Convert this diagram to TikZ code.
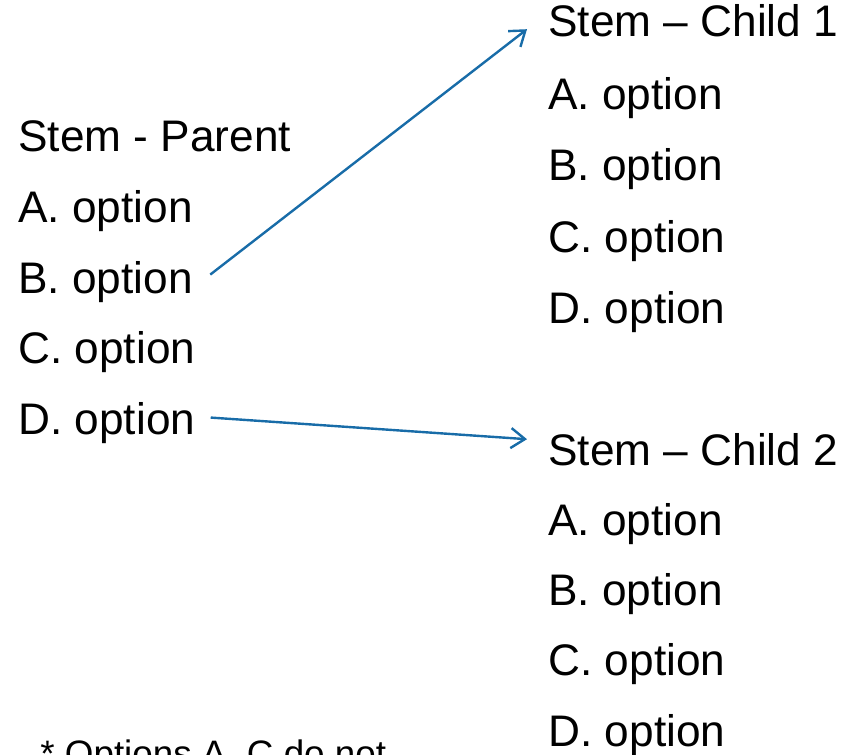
\documentclass[tikz,border=0pt]{standalone}
\usepackage{fontspec}
\setmainfont{Liberation Sans}
\usetikzlibrary{arrows.meta}
\definecolor{linkblue}{RGB}{24,108,168}
\tikzset{
	optline/.style = {anchor = base west, inner sep = 0pt, font = \fontsize{22.1}{26}\selectfont},
	noteline/.style = {anchor = base west, inner sep = 0pt, font = \fontsize{18.4}{22}\selectfont},
	link/.style = {linkblue, line width = 1.2pt, -{Straight Barb[length = 7pt, width = 10pt, line width = 1.2pt]}}
}
\begin{document}
\begin{tikzpicture}[x = 0.5pt, y = -0.5pt]
	\clip (0,0) rectangle (860,754);
	\useasboundingbox (0,0) rectangle (860,754);
	% parent question
	\node [optline] (pS) at (18,152) {Stem - Parent};
	\foreach \o [count = \i] in {A,B,C,D}{
	\node [optline] (p\o) at (18,152+70.5*\i) {\o. option};
	}
	% first child question
	\node [optline] (c1S) at (548,37) {Stem -- Child 1};
	\foreach \o [count = \i] in {A,B,C,D}{
	\node [optline] (c1\o) at (548,39+71*\i) {\o. option};
	}
	% second child question
	\node [optline] (c2S) at (548,465) {Stem -- Child 2};
	\foreach \o [count = \i] in {A,B,C,D}{
	\node [optline] (c2\o) at (548,465+70.3*\i) {\o. option};
	}
	\node [noteline] (note) at (40,766) {* Options A, C do not};
	% branching arrows
	\draw [link] ([xshift = 8.5pt, yshift = 3.5pt]pB.east) -- ([xshift = -10.5pt, yshift = -4pt]c1S.west);
	\draw [link] ([xshift = 7.5pt, yshift = 2.5pt]pD.east) -- ([xshift = -10.5pt, yshift = 5pt]c2S.west);
\end{tikzpicture}
\end{document}
